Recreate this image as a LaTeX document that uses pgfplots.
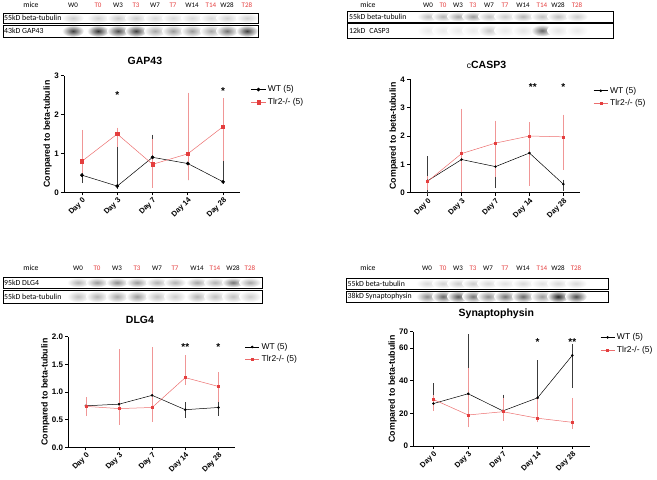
\documentclass[border=0pt]{standalone}
\usepackage{fontspec}
\setmainfont{Liberation Sans}
\newfontfamily\calfont{Carlito}
\usepackage{pgfplots}
\pgfplotsset{compat=1.18}
\definecolor{gpred}{RGB}{228,62,62}
\definecolor{gpredl}{RGB}{236,110,110}
\definecolor{gppink}{RGB}{240,150,150}
\definecolor{gpgray}{RGB}{60,60,60}
\pgfplotsset{
 gp/.style={scale only axis, axis lines=left, axis line style={line width=0.9pt,-},
  tick style={line width=0.8pt, black}, tick align=outside, major tick length=3pt,
  xtick={0,...,4}, xticklabels={Day 0,Day 3,Day 7,Day 14,Day 28},
  x tick label style={rotate=45, anchor=north east, font=\fontsize{7.5}{8}\selectfont\bfseries, inner sep=1pt},
  y tick label style={font=\fontsize{8}{9}\selectfont\bfseries, inner sep=2pt},
  ylabel={Compared to beta-tubulin}, ylabel shift=-3pt,
  ylabel style={font=\fontsize{8.8}{10}\selectfont\bfseries},
  legend style={draw=none, fill=none, font=\fontsize{8.5}{10}\selectfont, anchor=north west, row sep=1pt},
  legend image code/.code={\draw[mark repeat=2,mark phase=2] plot coordinates {(0cm,0cm) (0.25cm,0cm) (0.5cm,0cm)};},
  legend cell align=left, ymin=0, /pgf/number format/assume math mode=true, clip=false},
 wt/.style={color=black, line width=0.5pt, mark=*, mark size=#1,
  error bars/.cd, y dir=both, y explicit, error bar style={line width=0.5pt, gpgray},
  error mark options={line width=0.5pt, mark size=2.5pt, gpgray}},
 tl/.style={color=gpredl, line width=0.5pt, mark=square*, mark size=#1, mark options={gpred},
  error bars/.cd, y dir=both, y explicit, error bar style={line width=0.5pt, gppink},
  error mark options={line width=0.5pt, mark size=2.5pt, gppink}},
}
\newcommand{\bands}[3]{\foreach \xx/\cc in {#3} {\shade[inner color=black!\cc, outer color=white] (\xx,#1) ellipse (11 and #2);}}
\newcommand{\lanes}[2]{\foreach \xx/\ll [count=\i] in {#2} {\ifodd\i\node[font=\calfont\fontsize{7}{8}\selectfont, inner sep=0.5pt] at (\xx,#1) {\ll};\else\node[font=\calfont\fontsize{7}{8}\selectfont, inner sep=0.5pt, text=gpred] at (\xx,#1) {\ll};\fi}}
\newcommand{\ptitle}[3]{\node[font=\fontsize{10.5}{12}\selectfont\bfseries, anchor=center] at (rel axis cs:#1,#2) {#3};}
\begin{document}
\begin{tikzpicture}[x=1pt,y=1pt]
\useasboundingbox (0,0) rectangle (657,480);
\coordinate (A1) at (64,287.7);
\coordinate (A2) at (410,287.3);
\coordinate (A3) at (68.3,32.7);
\coordinate (A4) at (413.3,34);
% ---------- blots ----------
\begin{scope}[font=\calfont\fontsize{7.8}{8}\selectfont]
% top left
\node at (31,475) {mice};
\lanes{475}{73/W0,98/T0,118/W3,136/T3,155/W7,173/T7,192/W14,211/T14,227/W28,247/T28}
\bands{462}{5}{73/20,98/18,118/22,136/20,155/15,173/15,192/15,211/15,227/18,247/18}
\bands{449}{6}{73/75,98/80,118/70,136/75,155/35,173/40,192/40,211/35,227/55,247/75}
\draw[line width=0.9pt] (3,467) rectangle (258,457);
\draw[line width=0.9pt] (3,455) rectangle (258,443);
\node[anchor=west, inner sep=0.5pt] at (3.5,462) {55kD beta-tubulin};
\node[anchor=west, inner sep=0.5pt] at (3.5,449) {43kD GAP43};
% top right
\node at (368,475) {mice};
\lanes{475}{428/W0,443/T0,458/W3,473/T3,489/W7,505/T7,523/W14,542/T14,558/W28,577/T28}
\bands{463.5}{5}{428/25,443/30,458/35,473/40,489/25,505/20,523/30,542/25,558/25,577/20}
\bands{449.5}{6}{428/8,443/8,458/8,473/8,489/22,505/8,523/10,542/60,558/10,577/8}
\draw[line width=0.9pt] (347,469) rectangle (613,458);
\draw[line width=0.9pt] (347,457) rectangle (613,442);
\node[anchor=west, inner sep=0.5pt] at (348.5,463.5) {55kD beta-tubulin};
\node[anchor=west, inner sep=0.5pt] at (348.5,449.5) {12kD\enspace CASP3};
% bottom left
\node at (31,212) {mice};
\lanes{212}{78/W0,97/T0,117/W3,137/T3,157/W7,175/T7,197/W14,215/T14,233/W28,250/T28}
\bands{197.5}{5}{78/30,97/40,117/45,137/40,157/30,175/30,197/35,215/30,233/55,250/35}
\bands{183.5}{6}{78/25,97/30,117/35,137/40,157/25,175/20,197/30,215/25,233/25,250/20}
\draw[line width=0.9pt] (3,203) rectangle (262,192);
\draw[line width=0.9pt] (3,190) rectangle (262,177);
\node[anchor=west, inner sep=0.5pt] at (3.5,197.5) {95kD DLG4};
\node[anchor=west, inner sep=0.5pt] at (3.5,183.5) {55kD beta-tubulin};
% bottom right
\node at (368,212) {mice};
\lanes{212}{427/W0,443/T0,458/W3,473/T3,488/W7,505/T7,523/W14,542/T14,558/W28,576/T28}
\bands{196.5}{5}{427/15,443/18,458/20,473/20,488/15,505/12,523/15,542/12,558/15,576/15}
\bands{183.5}{6}{427/45,443/60,458/65,473/55,488/45,505/55,523/60,542/40,558/85,576/70}
\draw[line width=0.9pt] (346,202) rectangle (608,191);
\draw[line width=0.9pt] (346,189) rectangle (608,178);
\node[anchor=west, inner sep=0.5pt] at (347,196.5) {55kD beta-tubulin};
\node[anchor=west, inner sep=0.5pt] at (347,183.5) {38kD Synaptophysin};
\end{scope}
% ---------- GAP43 ----------
\begin{axis}[gp, at={(A1)}, anchor=south west, width=176pt, height=116.6pt,
  xmin=-0.51, xmax=4.48, ymax=3, ytick={0,1,2,3},
  legend style={at={(1.045,0.95)}}]
\addplot[wt=1.6pt] coordinates {(0,0.44) += (0,0.74) -= (0,0.14) (1,0.16) += (0,1.26) -= (0,0) (2,0.90) += (0,0.52) -= (0,0.32) (3,0.74) += (0,0.43) -= (0,0.37) (4,0.27) += (0,0.70) -= (0,0)};
\addlegendentry{WT (5)}
\addplot[tl=1.6pt] coordinates {(0,0.80) += (0,0.74) -= (0,0.25) (1,1.50) += (0,0.10) -= (0,0.27) (2,0.72) += (0,0.58) -= (0,0.54) (3,0.99) += (0,1.51) -= (0,0.62) (4,1.69) += (0,0.66) -= (0,0.82)};
\addlegendentry{Tlr2-/- (5)}
\ptitle{0.46}{1.13}{GAP43}
\node[font=\fontsize{10}{10}\selectfont\bfseries] at (axis cs:1,2.5) {*};
\node[font=\fontsize{10}{10}\selectfont\bfseries] at (axis cs:4,2.6) {*};
\end{axis}
% ---------- cCASP3 ----------
\begin{axis}[gp, at={(A2)}, anchor=south west, width=170pt, height=113.4pt,
  xmin=-0.52, xmax=4.49, ymax=4, ytick={0,1,2,3,4},
  legend style={at={(1.06,0.97)}}]
\addplot[wt=1pt] coordinates {(0,0.42) += (0,0.78) -= (0,0.42) (1,1.17) += (0,0.51) -= (0,0.77) (2,0.92) += (0,0.48) -= (0,0.67) (3,1.40) += (0,0.35) -= (0,1.07) (4,0.30) += (0,0.06) -= (0,0.15)};
\addlegendentry{WT (5)}
\addplot[tl=1pt] coordinates {(0,0.40) += (0,0.10) -= (0,0.20) (1,1.38) += (0,1.50) -= (0,1.25) (2,1.75) += (0,0.70) -= (0,1.12) (3,2.00) += (0,0.40) -= (0,1.67) (4,1.97) += (0,0.70) -= (0,1.07)};
\addlegendentry{Tlr2-/- (5)}
\ptitle{0.45}{1.126}{{\mdseries\fontsize{8.5}{10}\selectfont c}CASP3}
\node[font=\fontsize{10}{10}\selectfont\bfseries] at (axis cs:3.1,3.72) {**};
\node[font=\fontsize{10}{10}\selectfont\bfseries] at (axis cs:4,3.72) {*};
\end{axis}
% ---------- DLG4 ----------
\begin{axis}[gp, at={(A3)}, anchor=south west, width=166.7pt, height=110.6pt,
  xmin=-0.53, xmax=4.5, ymax=2, ytick={0,0.5,1,1.5,2},
  yticklabel style={/pgf/number format/.cd, fixed, fixed zerofill, precision=1},
  legend style={at={(1.04,0.98)}}]
\addplot[wt=1pt] coordinates {(0,0.75) += (0,0.05) -= (0,0.07) (1,0.78) += (0,0.17) -= (0,0.17) (2,0.94) += (0,0.08) -= (0,0.08) (3,0.68) += (0,0.09) -= (0,0.10) (4,0.72) += (0,0.10) -= (0,0.10)};
\addlegendentry{WT (5)}
\addplot[tl=1pt] coordinates {(0,0.74) += (0,0.12) -= (0,0.13) (1,0.70) += (0,1.03) -= (0,0.25) (2,0.72) += (0,1.04) -= (0,0.21) (3,1.26) += (0,0.36) -= (0,0.09) (4,1.10) += (0,0.21) -= (0,0.24)};
\addlegendentry{Tlr2-/- (5)}
\ptitle{0.43}{1.151}{DLG4}
\node[font=\fontsize{10}{10}\selectfont\bfseries] at (axis cs:3,1.81) {**};
\node[font=\fontsize{10}{10}\selectfont\bfseries] at (axis cs:4,1.81) {*};
\end{axis}
% ---------- Synaptophysin ----------
\begin{axis}[gp, at={(A4)}, anchor=south west, width=176.7pt, height=114.3pt,
  xmin=-0.58, xmax=4.51, ymax=70, ytick={0,20,40,60,70},
  legend style={at={(1.04,1.02)}}]
\addplot[wt=1pt] coordinates {(0,26) += (0,11) -= (0,1) (1,32) += (0,35) -= (0,5) (2,21.5) += (0,8.5) -= (0,4.5) (3,29.5) += (0,21.5) -= (0,2) (4,55.5) += (0,5.5) -= (0,18.5)};
\addlegendentry{WT (5)}
\addplot[tl=1pt] coordinates {(0,28.5) += (0,1) -= (0,5.5) (1,19) += (0,27.5) -= (0,6) (2,21) += (0,7) -= (0,4) (3,17) += (0,10) -= (0,1) (4,14.5) += (0,13.5) -= (0,2.5)};
\addlegendentry{Tlr2-/- (5)}
\ptitle{0.47}{1.161}{Synaptophysin}
\node[font=\fontsize{10}{10}\selectfont\bfseries] at (axis cs:3,63.5) {*};
\node[font=\fontsize{10}{10}\selectfont\bfseries] at (axis cs:4,63.5) {**};
\end{axis}
\end{tikzpicture}
\end{document}
